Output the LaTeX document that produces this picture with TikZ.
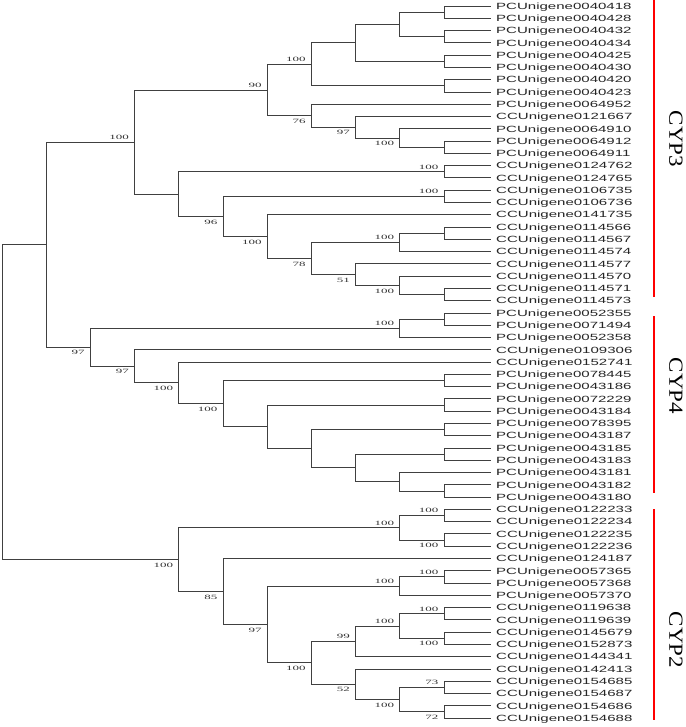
\documentclass[tikz,border=0pt]{standalone}
\usepackage{fontspec}
\usetikzlibrary{calc}
\newfontfamily\leaffont[FakeStretch=1.67]{Liberation Sans}
\newfontfamily\bsfont[FakeStretch=2.0]{Liberation Serif}
\newfontfamily\grpfont[FakeStretch=1.15]{Liberation Serif}
\tikzset{
  br/.style={draw=black!75, line width=0.8pt},
  leaflbl/.style={anchor=base west, inner sep=0pt, font=\leaffont\fontsize{9}{9}\selectfont, text=black!85},
  bslbl/.style={inner sep=0pt, font=\bsfont\fontsize{6.5}{6.5}\selectfont, text=black!80},
  grplbl/.style={rotate=-90, inner sep=0pt, font=\grpfont\fontsize{20}{20}\selectfont},
  grpline/.style={draw=red, line width=1.1pt}
}
\newcommand\myleaf[2]{%
  \coordinate (L#1) at (491,{6+(#1-1)*12.276});
  \node[leaflbl] (T#1) at ([shift={(5,3.3)}]L#1) {#2};}
\newcommand\bnode[4]{%
  \path let \p1=(#3), \p2=(#4) in (#2pt,{0.5*\y1+0.5*\y2}) coordinate (#1);
  \draw[br] (#1) |- (#3);
  \draw[br] (#1) |- (#4);}
\newcommand\bsup[2]{\node[bslbl, anchor=south east] (bs#1) at ([shift={(-5.5,-2.3)}]#1) {#2};}
\newcommand\bsdn[2]{\node[bslbl, anchor=north east] (bs#1) at ([shift={(-5.5,3.2)}]#1) {#2};}
\begin{document}
\begin{tikzpicture}[x=1pt,y=-1pt]
\useasboundingbox (0,0) rectangle (685,727);
\fill[white] (0,0) rectangle (685,727);
% leaves
\myleaf{1}{PCUnigene0040418}
\myleaf{2}{PCUnigene0040428}
\myleaf{3}{PCUnigene0040432}
\myleaf{4}{PCUnigene0040434}
\myleaf{5}{PCUnigene0040425}
\myleaf{6}{PCUnigene0040430}
\myleaf{7}{PCUnigene0040420}
\myleaf{8}{PCUnigene0040423}
\myleaf{9}{PCUnigene0064952}
\myleaf{10}{CCUnigene0121667}
\myleaf{11}{PCUnigene0064910}
\myleaf{12}{PCUnigene0064912}
\myleaf{13}{PCUnigene0064911}
\myleaf{14}{CCUnigene0124762}
\myleaf{15}{CCUnigene0124765}
\myleaf{16}{CCUnigene0106735}
\myleaf{17}{CCUnigene0106736}
\myleaf{18}{CCUnigene0141735}
\myleaf{19}{CCUnigene0114566}
\myleaf{20}{CCUnigene0114567}
\myleaf{21}{CCUnigene0114574}
\myleaf{22}{CCUnigene0114577}
\myleaf{23}{CCUnigene0114570}
\myleaf{24}{CCUnigene0114571}
\myleaf{25}{CCUnigene0114573}
\myleaf{26}{PCUnigene0052355}
\myleaf{27}{PCUnigene0071494}
\myleaf{28}{PCUnigene0052358}
\myleaf{29}{CCUnigene0109306}
\myleaf{30}{CCUnigene0152741}
\myleaf{31}{PCUnigene0078445}
\myleaf{32}{PCUnigene0043186}
\myleaf{33}{PCUnigene0072229}
\myleaf{34}{PCUnigene0043184}
\myleaf{35}{PCUnigene0078395}
\myleaf{36}{PCUnigene0043187}
\myleaf{37}{PCUnigene0043185}
\myleaf{38}{PCUnigene0043183}
\myleaf{39}{PCUnigene0043181}
\myleaf{40}{PCUnigene0043182}
\myleaf{41}{PCUnigene0043180}
\myleaf{42}{CCUnigene0122233}
\myleaf{43}{CCUnigene0122234}
\myleaf{44}{CCUnigene0122235}
\myleaf{45}{CCUnigene0122236}
\myleaf{46}{CCUnigene0124187}
\myleaf{47}{PCUnigene0057365}
\myleaf{48}{PCUnigene0057368}
\myleaf{49}{PCUnigene0057370}
\myleaf{50}{CCUnigene0119638}
\myleaf{51}{CCUnigene0119639}
\myleaf{52}{CCUnigene0145679}
\myleaf{53}{CCUnigene0152873}
\myleaf{54}{CCUnigene0144341}
\myleaf{55}{CCUnigene0142413}
\myleaf{56}{CCUnigene0154685}
\myleaf{57}{CCUnigene0154687}
\myleaf{58}{CCUnigene0154686}
\myleaf{59}{CCUnigene0154688}
% CYP3 clade
\bnode{a1}{444}{L1}{L2}
\bnode{a2}{444}{L3}{L4}
\bnode{a3}{399.8}{a1}{a2}
\bnode{a4}{444}{L5}{L6}
\bnode{a5}{355.6}{a3}{a4}
\bnode{a6}{444}{L7}{L8}
\bnode{a7}{311.4}{a5}{a6}
\bnode{a8}{444}{L12}{L13}
\bnode{b1}{399.8}{L11}{a8}
\bnode{b2}{355.6}{L10}{b1}
\bnode{b3}{311.4}{L9}{b2}
\bnode{c1}{267.2}{a7}{b3}
\bnode{d1}{444}{L14}{L15}
\bnode{d2}{444}{L16}{L17}
\bnode{e1}{444}{L19}{L20}
\bnode{e2}{399.8}{e1}{L21}
\bnode{e3}{444}{L24}{L25}
\bnode{e4}{399.8}{L23}{e3}
\bnode{e5}{355.6}{L22}{e4}
\bnode{e6}{311.4}{e2}{e5}
\bnode{e7}{267.2}{L18}{e6}
\bnode{d4}{223}{d2}{e7}
\bnode{d5}{178.8}{d1}{d4}
\bnode{B}{134.6}{c1}{d5}
% CYP4 clade
\bnode{f1}{444}{L26}{L27}
\bnode{f2}{399.8}{f1}{L28}
\bnode{h1}{444}{L31}{L32}
\bnode{h2}{444}{L33}{L34}
\bnode{h3}{444}{L35}{L36}
\bnode{h4}{444}{L37}{L38}
\bnode{h5}{444}{L40}{L41}
\bnode{h6}{399.8}{L39}{h5}
\bnode{h7}{355.6}{h4}{h6}
\bnode{h8}{311.4}{h3}{h7}
\bnode{h9}{267.2}{h2}{h8}
\bnode{h10}{223}{h1}{h9}
\bnode{h11}{178.8}{L30}{h10}
\bnode{h12}{134.6}{L29}{h11}
\bnode{g1}{90.4}{f2}{h12}
\bnode{A}{46.2}{B}{g1}
% CYP2 clade
\bnode{i1}{444}{L42}{L43}
\bnode{i2}{444}{L44}{L45}
\bnode{i3}{399.8}{i1}{i2}
\bnode{j1}{444}{L47}{L48}
\bnode{j2}{399.8}{j1}{L49}
\bnode{k1}{444}{L50}{L51}
\bnode{k2}{444}{L52}{L53}
\bnode{k3}{399.8}{k1}{k2}
\bnode{k4}{355.6}{k3}{L54}
\bnode{m1}{444}{L56}{L57}
\bnode{m2}{444}{L58}{L59}
\bnode{m3}{399.8}{m1}{m2}
\bnode{m4}{355.6}{L55}{m3}
\bnode{k5}{311.4}{k4}{m4}
\bnode{j3}{267.2}{j2}{k5}
\bnode{j4}{223}{L46}{j3}
\bnode{C}{178.8}{i3}{j4}
\bnode{R}{2}{A}{C}
% bootstrap values
\bsup{a7}{100}
\bsdn{b1}{100}
\bsdn{b2}{97}
\bsdn{b3}{76}
\bsup{c1}{90}
\bsup{d1}{100}
\bsup{d2}{100}
\bsup{e2}{100}
\bsdn{e4}{100}
\bsdn{e5}{51}
\bsdn{e6}{78}
\bsdn{e7}{100}
\bsdn{d4}{96}
\bsup{B}{100}
\bsup{f2}{100}
\bsdn{h10}{100}
\bsdn{h11}{100}
\bsdn{h12}{97}
\bsdn{g1}{97}
\bsup{i1}{100}
\bsdn{i2}{100}
\bsup{i3}{100}
\bsup{j1}{100}
\bsup{j2}{100}
\bsup{k1}{100}
\bsdn{k2}{100}
\bsup{k3}{100}
\bsup{k4}{99}
\bsup{m1}{73}
\bsdn{m2}{72}
\bsdn{m3}{100}
\bsdn{m4}{52}
\bsdn{k5}{100}
\bsdn{j3}{97}
\bsdn{j4}{85}
\bsdn{C}{100}
% group bars
\coordinate (g3a) at (654,0);   \coordinate (g3b) at (654,297);
\coordinate (g4a) at (654,316); \coordinate (g4b) at (654,493);
\coordinate (g2a) at (654,509); \coordinate (g2b) at (654,720);
\draw[grpline] (g3a) -- (g3b);
\draw[grpline] (g4a) -- (g4b);
\draw[grpline] (g2a) -- (g2b);
\node[grplbl] (cyp3) at (676,139) {CYP3};
\node[grplbl] (cyp4) at (676,386) {CYP4};
\node[grplbl] (cyp2) at (676,640) {CYP2};
\end{tikzpicture}
\end{document}
